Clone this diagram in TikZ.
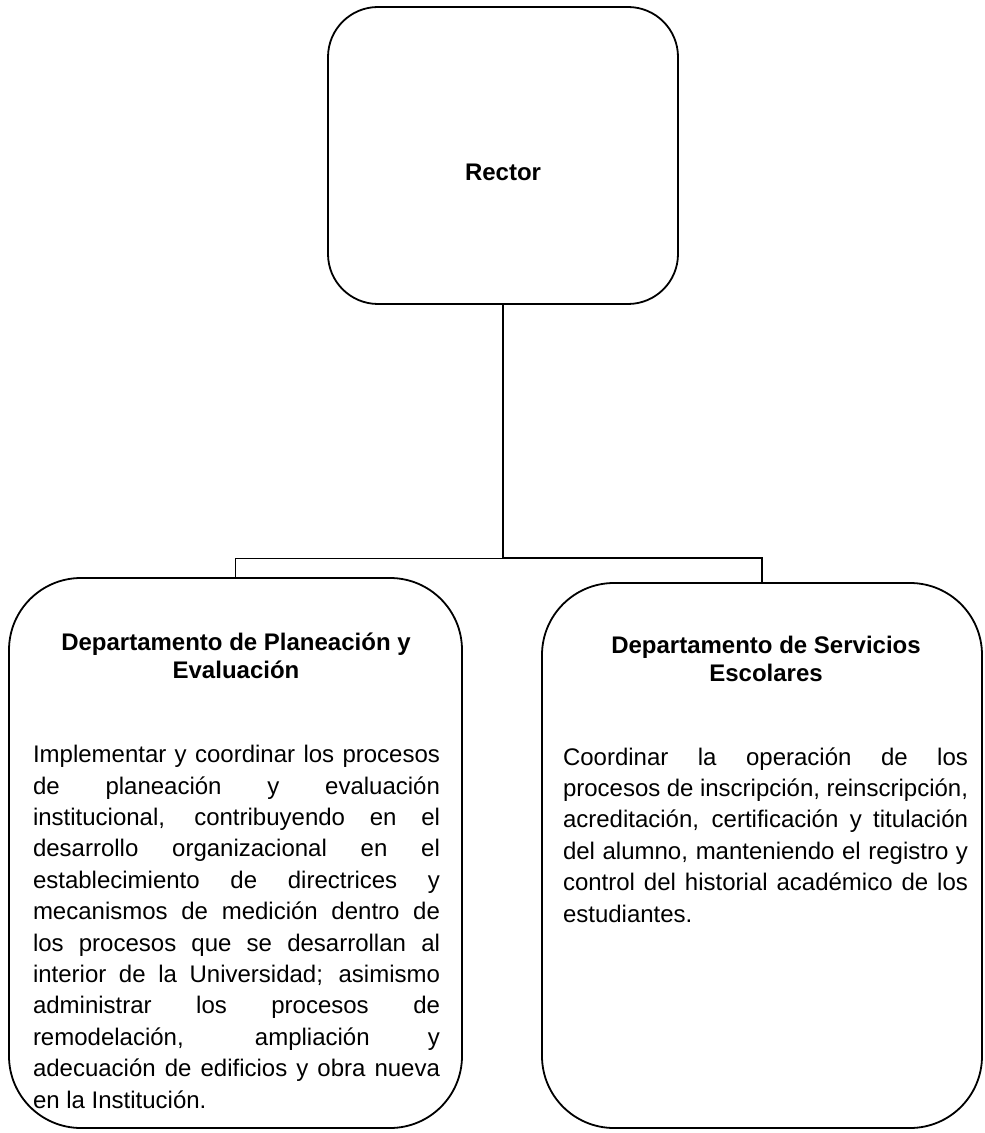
\documentclass[tikz,border=0pt]{standalone}
\usepackage{fontspec}
\setmainfont{Liberation Sans}
\usetikzlibrary{positioning}
\tikzset{
  headbox/.style={rectangle, draw, line width=0.9pt, rounded corners=25pt, minimum width=175pt, minimum height=148.5pt, font=\bfseries\fontsize{12}{14}\selectfont},
  unitbox/.style={rectangle, draw, line width=0.9pt, rounded corners=36pt, inner sep=0pt},
  unittitle/.style={align=center, inner sep=0pt, font=\bfseries\fontsize{12}{14}\selectfont},
  unittext/.style={align=justify, inner sep=0pt, anchor=north, font=\fontsize{12}{15.7}\selectfont,
    execute at begin node={\tolerance=10000\hbadness=10000\hyphenpenalty=10000}},
  link/.style={draw, line width=1.2pt},
  thinlink/.style={draw, line width=0.5pt}
}
\begin{document}
\begin{tikzpicture}[x=0.5pt, y=-0.5pt]
\useasboundingbox (0,0) rectangle (984,1133);
% rector
\node[headbox, text height=24.6pt, text depth=0pt] (rector) at (503,155.5) {Rector};
% departamentos
\node[unitbox, minimum width=226.5pt, minimum height=275pt] (plan) at (235.5,853) {};
\node[unitbox, minimum width=220pt, minimum height=272.5pt] (serv) at (762,855.5) {};
\node[unittitle] (plantitle) at (236,656) {Departamento de Planeación y\\Evaluación};
\node[unittitle] (servtitle) at (766,659) {Departamento de Servicios\\Escolares};
\node[unittext, text width=203.5pt] (plantext) at (236.5,745) {Implementar y coordinar los procesos\linebreak
de planeación y evaluación\linebreak
institucional, contribuyendo en el\linebreak
desarrollo organizacional en el\linebreak
establecimiento de directrices y\linebreak
mecanismos de medición dentro de\linebreak
los procesos que se desarrollan al\linebreak
interior de la Universidad; asimismo\linebreak
administrar los procesos de\linebreak
remodelación, ampliación y\linebreak
adecuación de edificios y obra nueva\linebreak
en la Institución.};
\node[unittext, text width=202.5pt] (servtext) at (765.5,747) {Coordinar la operación de los\linebreak
procesos de inscripción, reinscripción,\linebreak
acreditación, certificación y titulación\linebreak
del alumno, manteniendo el registro y\linebreak
control del historial académico de los\linebreak
estudiantes.};
% connectors
\coordinate (hub) at (503,558);
\draw[link] (rector.south) -- (hub);
\draw[thinlink] (hub) -| (plan.north);
\draw[link] (hub) -| (serv.north);
\end{tikzpicture}
\end{document}
